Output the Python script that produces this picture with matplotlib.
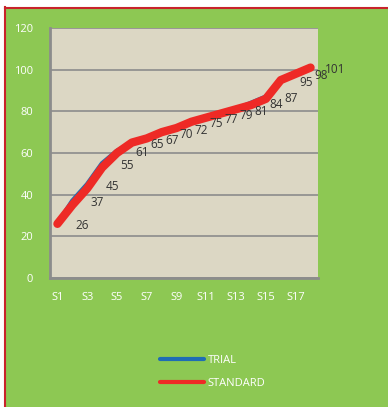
import matplotlib
matplotlib.use("Agg")
import matplotlib.pyplot as plt
from matplotlib.lines import Line2D

categories = ["S%d" % i for i in range(1, 19)]
trial = [26, 37, 45, 55, 61, 65, 67, 70, 72, 75, 77, 79, 81, 84, 87, 95, 98, 101]
standard = [26, 35, 43, 53, 60, 65, 67, 70, 72, 75, 77, 79, 81, 83, 86, 95, 98, 101]
y_ticks = [0, 20, 40, 60, 80, 100, 120]

green = "#8DC853"
plot_bg = "#DCD7C4"
grid_col = "#8C8C8C"
blue = "#1F6DB4"
red = "#EE2A26"
W, H = 388, 407

plt.rcParams["font.family"] = ["Open Sans", "DejaVu Sans"]

fig = plt.figure(figsize=(W / 100, H / 100), dpi=100)
fig.patch.set_facecolor("white")

# green chart area with red border on left and top
fig.patches.append(plt.Rectangle((4 / W, 0), 1, (H - 7) / H, transform=fig.transFigure,
                                 facecolor=green, edgecolor="none", zorder=-5))
fig.lines.append(Line2D([4.5 / W, 4.5 / W], [0, (H - 7) / H], transform=fig.transFigure,
                        color="#C8232B", lw=1.5, zorder=-4))
fig.lines.append(Line2D([4.5 / W, 1], [(H - 7.5) / H, (H - 7.5) / H], transform=fig.transFigure,
                        color="#C8232B", lw=1.5, zorder=-4))

ax = fig.add_axes([50 / W, (H - 278) / H, 268 / W, 250 / H])
ax.set_zorder(2)
ax.set_facecolor(plot_bg)
x = list(range(len(categories)))
ax.plot(x, trial, color=blue, lw=3.4, solid_capstyle="round", solid_joinstyle="round", label="TRIAL", zorder=3)
ax.plot(x, standard, color=red, lw=6, solid_capstyle="round", solid_joinstyle="round", label="STANDARD", zorder=4)

for xi, v in zip(x, trial):
    ax.annotate(str(v), (xi, v), xytext=(25, -2), textcoords="offset pixels",
                ha="center", va="center", fontsize=8.5, color="#333333", zorder=5,
                annotation_clip=False)

ax.set_xlim(-0.5, len(categories) - 0.5)
ax.set_ylim(0, 120)
ax.set_yticks(y_ticks)
ax.set_xticks(x[::2])
ax.set_xticklabels(categories[::2])
ax.tick_params(axis="both", length=0, colors="white", labelsize=8)
ax.tick_params(axis="y", pad=12)
ax.tick_params(axis="x", pad=10)
ax.yaxis.grid(True, color=grid_col, lw=1.2)
ax.set_axisbelow(True)
for s in ["top", "right"]:
    ax.spines[s].set_visible(False)
for s in ["left", "bottom"]:
    ax.spines[s].set_color(grid_col)
    ax.spines[s].set_linewidth(2)

leg = fig.legend(handles=[Line2D([], [], color=blue, lw=3, solid_capstyle="round"),
                          Line2D([], [], color=red, lw=3, solid_capstyle="round")],
                 labels=["TRIAL", "STANDARD"], loc="upper left",
                 bbox_to_anchor=(150 / W, (H - 345) / H), frameon=False,
                 fontsize=8, handlelength=4.0, handletextpad=0.3, labelspacing=1.05)
for t in leg.get_texts():
    t.set_color("white")

fig.savefig("out.png", dpi=100, facecolor=fig.get_facecolor())
